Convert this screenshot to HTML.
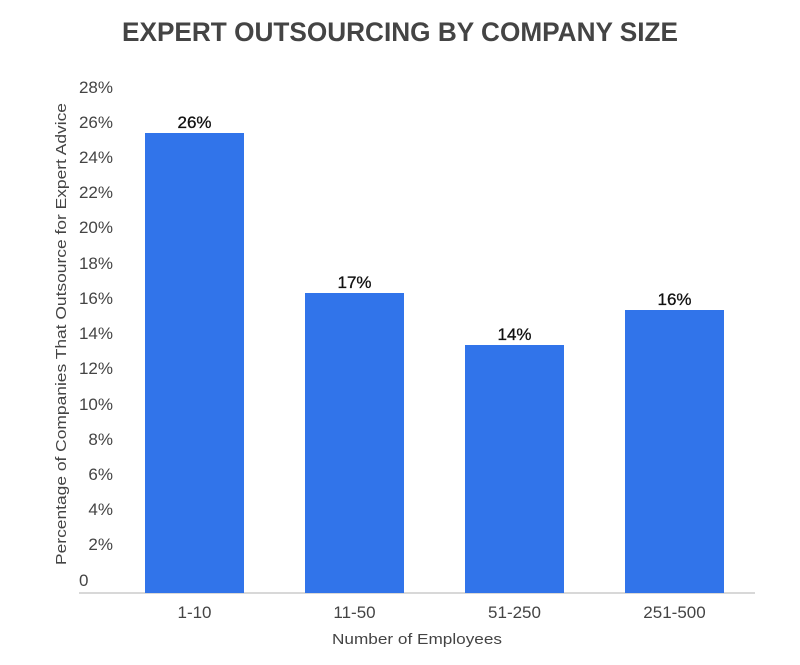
<!DOCTYPE html>
<html><head><style>
body{margin:0;background:#fff;}
svg text{font-family:"Liberation Sans",sans-serif;}
</style></head><body>
<svg width="800" height="660" xmlns="http://www.w3.org/2000/svg">
<rect width="800" height="660" fill="#fff"/>
<text x="400" y="41" text-anchor="middle" font-size="27" font-weight="bold" fill="#444" textLength="556" lengthAdjust="spacingAndGlyphs">EXPERT OUTSOURCING BY COMPANY SIZE</text>
<g font-size="17" fill="#444" text-anchor="end">
<text x="113" y="93">28%</text>
<text x="113" y="128">26%</text>
<text x="113" y="163">24%</text>
<text x="113" y="198">22%</text>
<text x="113" y="233">20%</text>
<text x="113" y="269">18%</text>
<text x="113" y="304">16%</text>
<text x="113" y="339">14%</text>
<text x="113" y="374">12%</text>
<text x="113" y="410">10%</text>
<text x="113" y="445">8%</text>
<text x="113" y="480">6%</text>
<text x="113" y="515">4%</text>
<text x="113" y="550">2%</text>
<text x="79" y="586" text-anchor="start">0</text>
</g>
<line x1="79" y1="593" x2="755" y2="593" stroke="#ccc" stroke-width="1.5"/>
<g fill="#3174ea">
<rect x="145" y="133" width="99" height="460"/>
<rect x="305" y="293" width="99" height="300"/>
<rect x="465" y="345" width="99" height="248"/>
<rect x="625" y="310" width="99" height="283"/>
</g>
<g font-size="17" fill="#111" text-anchor="middle" stroke="#111" stroke-width="0.3">
<text x="194.5" y="128">26%</text>
<text x="354.5" y="288">17%</text>
<text x="514.5" y="340">14%</text>
<text x="674.5" y="305">16%</text>
</g>
<g font-size="17" fill="#444" text-anchor="middle">
<text x="194.5" y="618">1-10</text>
<text x="354.5" y="618">11-50</text>
<text x="514.5" y="618">51-250</text>
<text x="674.5" y="618">251-500</text>
</g>
<text x="417" y="644" text-anchor="middle" font-size="15" fill="#444" textLength="170" lengthAdjust="spacingAndGlyphs">Number of Employees</text>
<text transform="translate(66,334) rotate(-90)" text-anchor="middle" font-size="15" fill="#444" textLength="462" lengthAdjust="spacingAndGlyphs">Percentage of Companies That Outsource for Expert Advice</text>
</svg>
</body></html>
